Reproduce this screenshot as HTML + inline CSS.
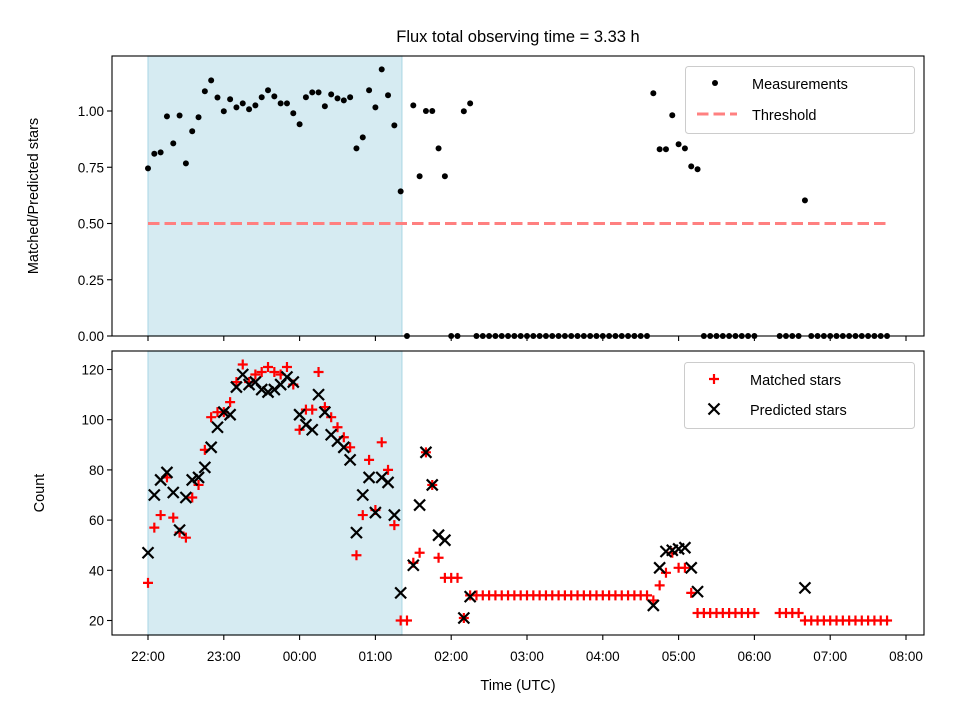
<!DOCTYPE html>
<html><head><meta charset="utf-8"><style>
body{margin:0;background:#fff}
svg{display:block;font-family:"Liberation Sans","DejaVu Sans",sans-serif}
</style></head><body>
<svg id="fig" width="960" height="720" viewBox="0 0 960 720" xmlns="http://www.w3.org/2000/svg" style="position:absolute;left:0;top:0">
<text x="518" y="42" font-size="16.5" text-anchor="middle">Flux total observing time = 3.33 h</text>
<g id="gtop"></g>
<g id="gbot"></g>
<text x="38" y="196" font-size="14.5" text-anchor="middle" transform="rotate(-90 38 196)">Matched/Predicted stars</text>
<text x="44" y="493" font-size="14.5" text-anchor="middle" transform="rotate(-90 44 493)">Count</text>
<text x="518" y="690" font-size="14.5" text-anchor="middle">Time (UTC)</text>
<g>
<rect x="685.5" y="66.5" width="229" height="67" rx="3" fill="#fff" fill-opacity="0.8" stroke="#ccc"/>
<circle cx="715" cy="83" r="3" fill="#000"/>
<text x="752" y="89" font-size="14.5">Measurements</text>
<line x1="697" x2="737" y1="114" y2="114" stroke="#ff8080" stroke-width="3" stroke-dasharray="11.5,5"/>
<text x="752" y="120" font-size="14.5">Threshold</text>
</g>
<g>
<rect x="684.5" y="362.5" width="230" height="66" rx="3" fill="#fff" fill-opacity="0.8" stroke="#ccc"/>
<path d="M709,379H719M714,374V384" stroke="#f00" stroke-width="2.2"/>
<text x="750" y="385" font-size="14.5">Matched stars</text>
<path d="M708.5,403.5L719.5,414.5M708.5,414.5L719.5,403.5" stroke="#000" stroke-width="2.2"/>
<text x="750" y="415" font-size="14.5">Predicted stars</text>
</g>
</svg>
<script>
// time in minutes since 22:00 UTC
const ratioTimes = [0,5,10,15,20,25,30,35,40,45,50,55,60,65,70,75,80,85,90,95,100,105,110,115,120,125,130,135,140,145,150,155,160,165,170,175,180,185,190,195,200,
205,210,215,220,225,230,235,240,245,250,255,
260,265,270,275,280,285,290,295,300,305,310,315,320,325,330,335,340,345,350,355,360,365,370,375,380,385,390,395,
400,405,410,415,420,425,430,435,440,445,450,455,460,465,470,475,480,500,505,510,515,520,525,530,535,540,545,550,555,560,565,570,575,580,585];
const ratioValues = [0.745,0.81,0.816,0.976,0.856,0.98,0.767,0.91,0.972,1.088,1.136,1.06,0.999,1.052,1.016,1.034,1.008,1.025,1.061,1.092,1.065,1.034,1.034,0.99,0.941,1.061,1.083,1.083,1.021,1.074,1.056,1.047,1.061,0.834,0.883,1.092,1.016,1.185,1.07,0.936,0.643,
0,1.025,0.71,1.0,1.0,0.834,0.71,0,0,0.999,1.034,
0,0,0,0,0,0,0,0,0,0,0,0,0,0,0,0,0,0,0,0,0,0,0,0,0,0,0,0,
1.079,0.83,0.83,0.981,0.852,0.834,0.754,0.741,0,0,0,0,0,0,0,0,0,0,0,0,0,0.603,0,0,0,0,0,0,0,0,0,0,0,0,0];
const countTimes = [0,5,10,15,20,25,30,35,40,45,50,55,60,65,70,75,80,85,90,95,100,105,110,115,120,125,130,135,140,145,150,155,160,165,170,175,180,185,190,195,200,
205,210,215,220,225,230,235,240,245,250,255,
260,265,270,275,280,285,290,295,300,305,310,315,320,325,330,335,340,345,350,355,360,365,370,375,380,385,390,395,
400,405,410,415,420,425,430,435,440,445,450,455,460,465,470,475,480,500,505,510,515,520,525,530,535,540,545,550,555,560,565,570,575,580,585];
const matchedValues = [35,57,62,77,61,55,53,69,74,88,101,103,103,107,115,122,115,118,119,121,119,118,121,114,96,104,104,119,105,101,97,93,89,46,62,84,64,91,80,58,20,
20,43,47,87,74,45,37,37,37,21,30,
30,30,30,30,30,30,30,30,30,30,30,30,30,30,30,30,30,30,30,30,30,30,30,30,30,30,30,30,
28,34,39,47,41,41,31,23,23,23,23,23,23,23,23,23,23,23,23,23,23,20,20,20,20,20,20,20,20,20,20,20,20,20,20];
const predictedValues = [47,70,76,79,71,56,69,76,77,81,89,97,103,102,113,118,114,115,112,111,112,114,117,115,102,98,96,110,103,94,91.5,89,84,55,70,77,63,77,75,62,31,
null,42,66,87,74,54,52,null,null,21,29.5,
null,null,null,null,null,null,null,null,null,null,null,null,null,null,null,null,null,null,null,null,null,null,null,null,null,null,null,null,
26,41,47.5,48,48.5,49,41,31.5,null,null,null,null,null,null,null,null,null,null,null,null,null,33,null,null,null,null,null,null,null,null,null,null,null,null,null];
const xTickLabels = ["22:00","23:00","00:00","01:00","02:00","03:00","04:00","05:00","06:00","07:00","08:00"];
const ratioTicks = [0,0.25,0.5,0.75,1.0];
const countTicks = [20,40,60,80,100,120];
const shadeRange = [0,201];
const thresholdValue = 0.5;
const thresholdRange = [0,585];

(function(){
const NS="http://www.w3.org/2000/svg";
const L=112,R=924;
const xs=t=>148+t*75.8/60;
const PT={top:56,bot:336}, PB={top:351,bot:635};
const yr=v=>336-v*225;
const yc=v=>620.5-(v-20)*2.51;
function mk(tag,attrs,parent){const e=document.createElementNS(NS,tag);for(const k in attrs)e.setAttribute(k,attrs[k]);parent.appendChild(e);return e;}
const gTop=document.getElementById('gtop'), gBot=document.getElementById('gbot');

[[gTop,PT],[gBot,PB]].forEach(([g,P])=>{
  const r=mk('rect',{x:xs(shadeRange[0]),y:P.top,width:xs(shadeRange[1])-xs(shadeRange[0]),height:P.bot-P.top,fill:'rgba(173,216,230,0.5)',stroke:'rgba(173,216,230,0.9)','stroke-width':1.2},g);
  
  
});

const th=mk('line',{x1:xs(thresholdRange[0]),x2:xs(thresholdRange[1]),y1:yr(thresholdValue),y2:yr(thresholdValue),stroke:'#ff8080','stroke-width':3,'stroke-dasharray':'11.5,5'},gTop);



ratioTimes.forEach((t,i)=>{
  const c=mk('circle',{cx:xs(t),cy:yr(ratioValues[i]),r:3,fill:'#000'},gTop);
  
  
});

countTimes.forEach((t,i)=>{
  const x=xs(t);
  if(matchedValues[i]!=null){
    const y=yc(matchedValues[i]);
    const p=mk('path',{d:`M${x-5},${y}H${x+5}M${x},${y-5}V${y+5}`,stroke:'#f00','stroke-width':2.2,fill:'none'},gBot);
    
    
  }
});
countTimes.forEach((t,i)=>{
  const x=xs(t);
  if(predictedValues[i]!=null){
    const y=yc(predictedValues[i]);
    const p=mk('path',{d:`M${x-5.5},${y-5.5}L${x+5.5},${y+5.5}M${x-5.5},${y+5.5}L${x+5.5},${y-5.5}`,stroke:'#000','stroke-width':2.2,fill:'none'},gBot);
    
    
  }
});

[[gTop,PT,'ratio-axes-frame'],[gBot,PB,'count-axes-frame']].forEach(([g,P,n])=>{
  const f=mk('rect',{x:L,y:P.top,width:R-L,height:P.bot-P.top,fill:'none',stroke:'#000','stroke-width':1.1},g);
  
  
  xTickLabels.forEach((lab,i)=>{
    const x=xs(i*60);
    const tk=mk('line',{x1:x,x2:x,y1:P.bot,y2:P.bot+5,stroke:'#000','stroke-width':1.1},g);
    
    
    if(g===gBot){
      const tx=mk('text',{x:x,y:661,'font-size':13.5,'text-anchor':'middle'},g);
      tx.textContent=lab;
      
      
    }
  });
});
ratioTicks.forEach(v=>{
  const y=yr(v);
  const tk=mk('line',{x1:L-5,x2:L,y1:y,y2:y,stroke:'#000','stroke-width':1.1},gTop);
  
  
  const tx=mk('text',{x:L-8,y:y+5,'font-size':13.5,'text-anchor':'end'},gTop);
  tx.textContent=v.toFixed(2);
  
  
});
countTicks.forEach(v=>{
  const y=yc(v);
  const tk=mk('line',{x1:L-5,x2:L,y1:y,y2:y,stroke:'#000','stroke-width':1.1},gBot);
  
  
  const tx=mk('text',{x:L-8,y:y+5,'font-size':13.5,'text-anchor':'end'},gBot);
  tx.textContent=String(v);
  
  
});
})();
</script>
</body></html>
